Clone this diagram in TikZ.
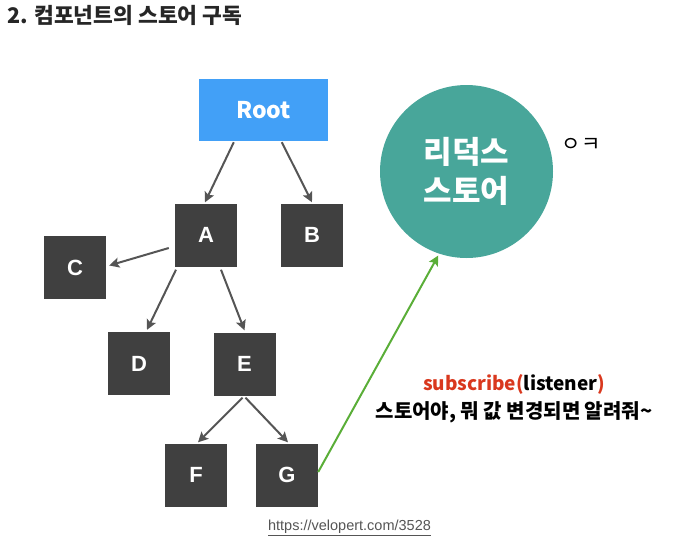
\documentclass[tikz,border=0pt]{standalone}
\usepackage{fontspec}
\setmainfont{Noto Sans CJK KR}
\newfontfamily\kr{Noto Sans CJK KR}
\newfontfamily\arial{Liberation Sans}
\usetikzlibrary{arrows.meta,calc}
\definecolor{rootblue}{HTML}{42A0F7}
\definecolor{boxgray}{HTML}{404040}
\definecolor{arrgray}{HTML}{555555}
\definecolor{storeteal}{HTML}{48A69A}
\definecolor{grn}{HTML}{5AAE38}
\definecolor{redt}{HTML}{D9381E}
\definecolor{urlgray}{HTML}{555555}
\tikzset{
  box/.style={fill=boxgray, minimum width=62pt, minimum height=63pt, inner sep=0pt, text=white,
    font=\arial\bfseries\fontsize{22}{26}\selectfont},
  arr/.style={draw=arrgray, line width=2pt, -{Stealth[length=10pt,width=10pt,inset=2pt]}},
  garr/.style={draw=grn, line width=2pt, -{Stealth[length=10pt,width=10pt,inset=2pt]}},
}
\begin{document}
\begin{tikzpicture}[x=1pt,y=-1pt]
\useasboundingbox (0,0) rectangle (678,555);
\node[anchor=west, text=black!85, font=\kr\bfseries\fontsize{21.5}{24}\selectfont, inner sep=0pt] (title) at (7,15) {2. 컴포넌트의 스토어 구독};

\node[fill=rootblue, minimum width=129pt, minimum height=62pt, inner sep=0pt, text=white,
  font=\kr\bfseries\fontsize{23}{26}\selectfont] (root) at (263.5,110) {\raisebox{-2pt}{Root}};
\node[box] (a) at (206,235) {A};
\node[box] (b) at (312,235) {B};
\node[box] (c) at (75,267.5) {C};
\node[box] (d) at (139,363.5) {D};
\node[box] (e) at (244.5,364) {E};
\node[box] (f) at (196,475) {F};
\node[box] (g) at (287,475) {G};

\node[circle, fill=storeteal, minimum size=173pt, inner sep=0pt, text=white, align=center,
  font=\kr\bfseries\fontsize{31}{39}\selectfont] (st) at (466.5,171.5) {리덕스\\스토어};
\node[font=\kr\fontsize{21}{24}\selectfont, inner sep=0pt] (ok) at (581,145) {ㅇㅋ};

\draw[arr] ($(root.south west)+(35,1)$) -- ($(a.north)+(-1,-1)$);
\draw[arr] ($(root.south west)+(83,1)$) -- ($(b.north)+(0,-1)$);
\draw[arr] ($(a.west)+(-6,13)$) -- ($(c.east)+(3,-2)$);
\draw[arr] ($(a.south)+(-30,3)$) -- ($(d.north)+(8,-2)$);
\draw[arr] ($(a.south)+(15,3)$) -- ($(e.north)+(0,-2)$);
\draw[arr] ($(e.south)+(-2,2)$) -- ($(f.north)+(2,-1)$);
\draw[arr] ($(e.south)+(1,2)$) -- ($(g.north)+(1,-1)$);
\draw[garr] ($(g.east)+(0,-3)$) -- ($(st.251)+(0,2)$);

\node[font=\kr\bfseries\fontsize{19}{22}\selectfont, inner sep=0pt] (sub) at (514,384)
  {\textcolor{redt}{subscribe(}listener\textcolor{redt}{)}};
\node[font=\kr\bfseries\fontsize{20}{23}\selectfont, inner sep=0pt] (msg) at (514,412)
  {스토어야, 뭐 값 변경되면 알려줘\char`~};
\node[font=\arial\fontsize{14.5}{17}\selectfont, text=urlgray, inner sep=0pt] (url) at (349.5,528)
  {\underline{https://velopert.com/3528}};
\end{tikzpicture}
\end{document}
